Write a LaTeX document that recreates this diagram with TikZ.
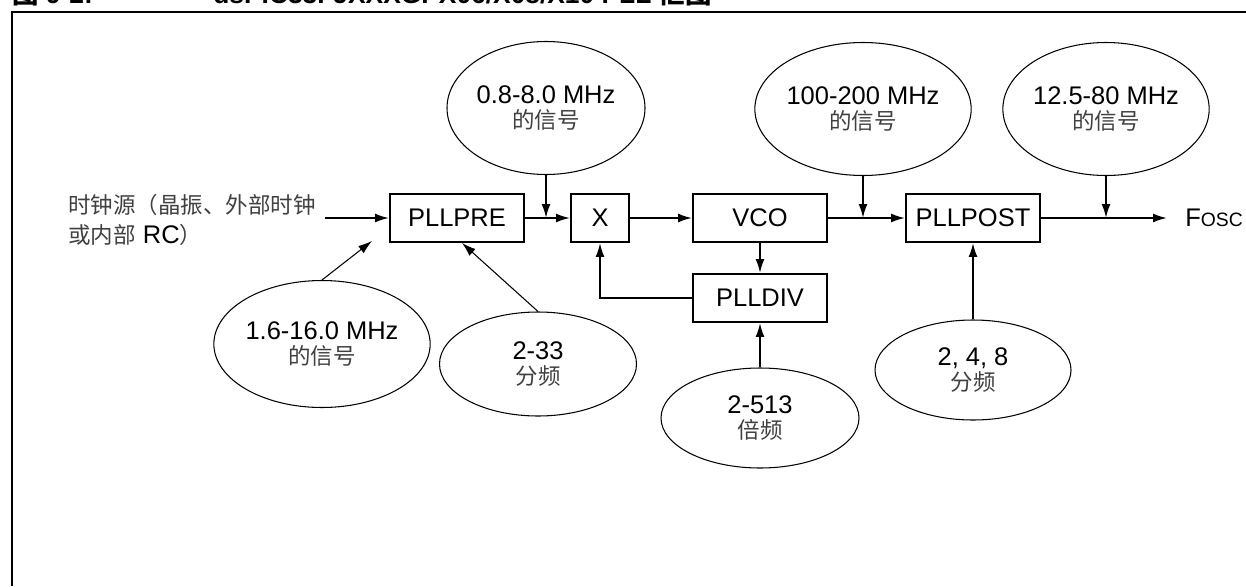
\documentclass[tikz,border=0pt]{standalone}
\usepackage{fontspec}
\setmainfont{Liberation Sans}
\newfontfamily\cjk{Noto Sans CJK SC}
\newcommand\zhtext[1]{{\cjk\fontsize{12.8}{13.8}\selectfont\color{black!75}#1}}
\usetikzlibrary{shapes.geometric,arrows.meta}

\begin{document}
\begin{tikzpicture}[
      every node/.style={font=\fontsize{14.5}{13.8}\selectfont},
      block/.style={draw, line width=1.1pt, minimum width=2.68cm,
        minimum height=0.96cm, inner sep=0pt},
      param/.style={draw, ellipse, line width=0.6pt, minimum width=3.96cm,
        minimum height=2.66cm, inner sep=0pt, align=center},
      arrow/.style={-{Latex[length=0.28cm,width=0.18cm]}, line width=1.1pt},
      thinarrow/.style={-{Latex[length=0.28cm,width=0.18cm]}, line width=0.6pt},
      titletext/.style={anchor=base west, inner sep=0pt,
        font=\fontsize{15}{15}\selectfont\bfseries},
    ]
    \useasboundingbox (0,0) rectangle (24.92,-11.72);
    % Frame and title (cut at the top edge)
    \draw[line width=1.1pt] (0.22,-0.24) -- (24.92,-0.24);
    \draw[line width=0.9pt] (0.24,-0.24) -- (0.24,-11.72);
    \node[titletext] (fignum) at (0.24,-0.06) {{\cjk 图} 9-2:};
    \node[titletext] (title)  at (4.26,-0.06) {dsPIC33FJXXXGPX06/X08/X10 PLL {\cjk 框图}};
    % Blocks at y = -4.36
    \node[block] (pllpre)  at (9.14,-4.36)  {PLLPRE};
    \node[block, minimum width=1.16cm] (mult) at (12.0,-4.36) {X};
    \node[block] (vco)     at (15.2,-4.36)  {VCO};
    \node[block] (plldiv)  at (15.2,-5.96)  {PLLDIV};
    \node[block] (pllpost) at (19.46,-4.36) {PLLPOST};
    % Input and output
    \node[anchor=west, inner sep=0pt, align=left,
      font=\fontsize{14.5}{17}\selectfont] (srctext) at (1.36,-4.4)
      {\zhtext{时钟源（晶振、外部时钟}\\\zhtext{或内部} RC\zhtext{）}};
    \coordinate (src) at (6.5,-4.36);
    \node[anchor=west, inner xsep=0.36cm, inner ysep=0pt] (fosc) at (23.34,-4.36)
      {F{\fontsize{11}{12}\selectfont OSC}};
    % Ranges and ratios
    \node[param] (fin)  at (10.92,-2.16) {0.8-8.0 MHz\\\zhtext{的信号}};
    \node[param] (fvco) at (17.26,-2.18) {100-200 MHz\\\zhtext{的信号}};
    \node[param] (fout) at (22.12,-2.18) {12.5-80 MHz\\\zhtext{的信号}};
    \node[param, minimum width=3.9cm, minimum height=2.54cm] (fsrc) at (6.44,-6.88)
      {1.6-16.0 MHz\\\zhtext{的信号}};
    \node[param, minimum width=3.94cm, minimum height=2.08cm] (prediv) at (10.76,-7.28)
      {2-33\\\zhtext{分频}};
    \node[param, minimum height=2.0cm] (fbdiv) at (15.2,-8.36) {2-513\\\zhtext{倍频}};
    \node[param, minimum width=3.92cm, minimum height=2.0cm] (postdiv) at (19.46,-7.4)
      {2, 4, 8\\\zhtext{分频}};
    % Signal path
    \draw[arrow] (src) -- (pllpre);
    \draw[arrow] (pllpre) -- (mult);
    \draw[arrow] (mult) -- (vco);
    \draw[arrow] (vco) -- (pllpost);
    \draw[arrow] (pllpost) -- (fosc);
    \draw[arrow] (vco) -- (plldiv);
    \draw[arrow] (plldiv.west) -| (mult.south);
    \draw[arrow] (fbdiv) -- (plldiv);
    \draw[arrow] (postdiv) -- (pllpost);
    % Frequency taps from above
    \foreach \e/\b in {fin/pllpre, fvco/vco, fout/pllpost}
      \draw[arrow] (\e.south) -- (\e.south |- \b.east);
    \draw[thinarrow] (fsrc.north) -- ([xshift=-0.34cm,yshift=0.04cm]pllpre.south west);
    \draw[thinarrow] (prediv.north) -- ([xshift=0.1cm]pllpre.south);
  \end{tikzpicture}
\end{document}
